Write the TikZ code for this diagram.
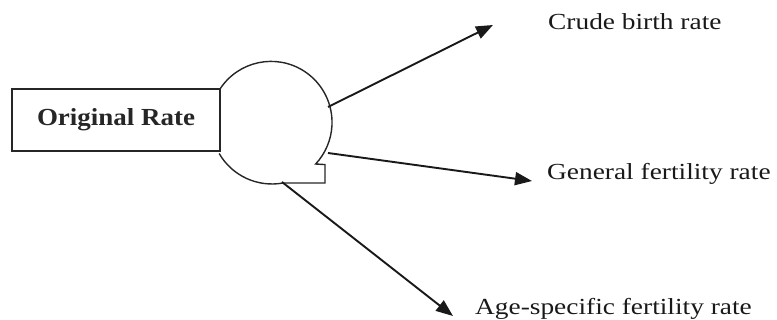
\documentclass[tikz,border=0pt]{standalone}
\usepackage{fontspec}
\usepackage{graphicx}
\setmainfont{Liberation Serif}
\usetikzlibrary{arrows.meta}
\newcommand{\wide}[2]{\scalebox{#1}[1]{#2}}
\begin{document}
\begin{tikzpicture}[x=1pt,y=1pt,
  outline/.style={line width=1.4pt, draw=black!85, line join=miter},
  conn/.style={line width=1.9pt, draw=black!90, -{Triangle[length=17pt,width=13pt]}},
  lbl/.style={anchor=base west, inner sep=0pt, text=black!90, font=\fontsize{23}{27}\selectfont}]
\useasboundingbox (0,0) rectangle (777,320);
% circle-like shape
\draw[outline] (220,231) arc[start angle=146.8, end angle=-43, radius=61]
  -- (325,155.4) -- (325,137) -- (283,137)
  arc[start angle=-79.6, end angle=-150, radius=61];
% rectangle
\node[outline, fill=white, draw, minimum width=208pt, minimum height=62pt, inner sep=0pt,
  text=black!85, font=\bfseries\fontsize{24.5}{28}\selectfont] (orig) at (116,200) {\wide{1.1}{Original Rate}};
% arrow endpoints
\coordinate (s1) at (328,213);
\coordinate (s2) at (328,167);
\coordinate (s3) at (282,138);
\coordinate (t1) at (493,295);
\coordinate (t2) at (532,139);
\coordinate (t3) at (453,4);
\draw[conn] (s1) -- (t1);
\draw[conn] (s2) -- (t2);
\draw[conn] (s3) -- (t3);
% labels
\node[lbl] (l1) at (548,290) {\wide{1.19}{Crude birth rate}};
\node[lbl] (l2) at (547,140) {\wide{1.19}{General fertility rate}};
\node[lbl] (l3) at (475,5) {\wide{1.19}{Age-specific fertility rate}};
\end{tikzpicture}
\end{document}
